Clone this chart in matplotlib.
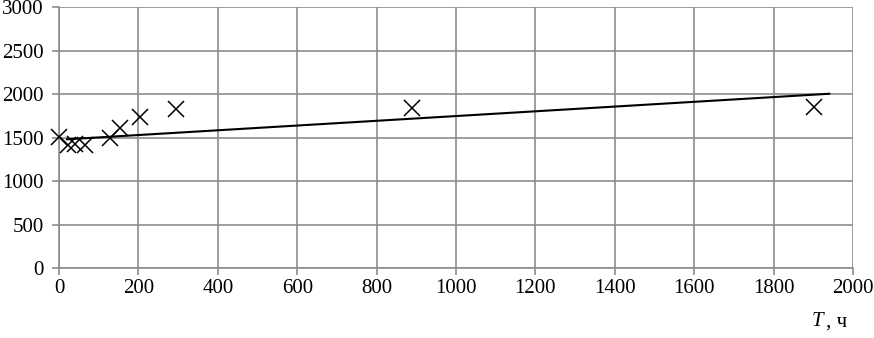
import matplotlib
matplotlib.use("Agg")
from matplotlib import pyplot as plt

# measured points (T, hours) vs value
T_HOURS = [0, 23, 40, 66, 128, 154, 203, 295, 888, 1902]
VALUES = [1506, 1417, 1428, 1417, 1494, 1609, 1736, 1828, 1843, 1857]

# trend line end points
TREND_X = [20, 1940]
TREND_Y = [1482, 2005]

X_TICKS = list(range(0, 2001, 200))
Y_TICKS = list(range(0, 3001, 500))

GRID = "#8c8c8c"

plt.rcParams["font.family"] = ["Liberation Serif", "DejaVu Serif"]

fig = plt.figure(figsize=(8.74, 3.38), dpi=100)
ax = fig.add_axes([0.0675, 0.206, 0.9085, 0.773])

ax.plot(T_HOURS, VALUES, linestyle="none", marker="x", color="black",
        markersize=11, markeredgewidth=1.1, zorder=3, clip_on=False)
ax.plot(TREND_X, TREND_Y, color="black", linewidth=1.5, zorder=2)

ax.set_xlim(0, 2000)
ax.set_ylim(0, 3000)
ax.set_xticks(X_TICKS)
ax.set_yticks(Y_TICKS)
ax.grid(True, color=GRID, linewidth=1.2)
ax.set_axisbelow(True)

for side in ["top", "right"]:
    ax.spines[side].set_visible(False)
for side in ["left", "bottom"]:
    ax.spines[side].set_color(GRID)
    ax.spines[side].set_linewidth(1.2)

ax.tick_params(axis="both", colors=GRID, labelcolor="black", labelsize=15,
               length=5, width=1.2, direction="out")
ax.tick_params(axis="x", pad=3)
ax.tick_params(axis="y", pad=6)

# axis label "T, ч" at bottom right
fig.text(0.929, 0.02, "T", fontsize=15, style="italic", ha="left", va="bottom")
fig.text(0.945, 0.02, ", ч", fontsize=15, ha="left", va="bottom")

fig.savefig("out.png", dpi=100)
